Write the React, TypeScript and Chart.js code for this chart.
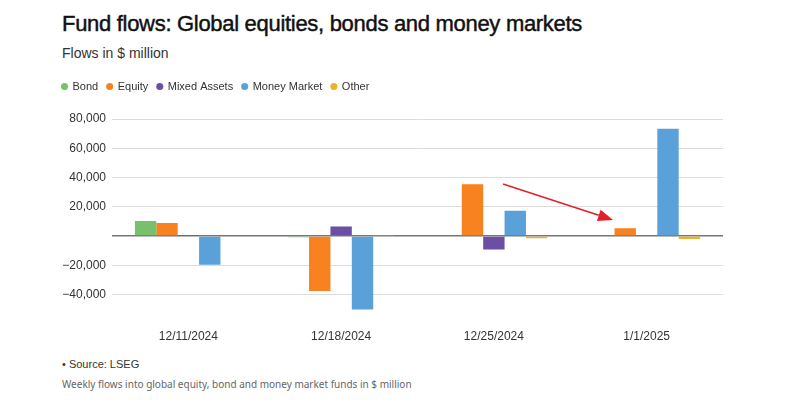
import React, { useEffect, useRef } from "react";
import { Chart, registerables } from "chart.js";

Chart.register(...registerables);

const categories = ["12/11/2024", "12/18/2024", "12/25/2024", "1/1/2025"];
const bond = [10300, -800, -500, 0];
const equity = [8900, -37500, 35400, 5300];
const mixedAssets = [300, 6600, -9100, 0];
const moneyMarket = [-19500, -50200, 17300, 73300];
const other = [0, 700, -1500, -2000];
const yTicks = [-40000, -20000, 0, 20000, 40000, 60000, 80000];
const arrowFrom = { x: 2.06, y: 35600 };
const arrowTo = { x: 2.78, y: 11000 };

const FONT = "'Liberation Sans', Arial, Helvetica, sans-serif";

const legendGap = {
  id: "legendGap",
  beforeInit(chart: any) {
    const orig = chart.legend.fit;
    chart.legend.fit = function () {
      orig.bind(chart.legend)();
      this.height += 17;
    };
  },
};

const arrowPlugin = {
  id: "arrowNote",
  afterDatasetsDraw(chart: any) {
    const { ctx, scales } = chart;
    const xs = scales.x;
    const ys = scales.y;
    const step = xs.getPixelForValue(1) - xs.getPixelForValue(0);
    const px = (v: number) => xs.getPixelForValue(Math.floor(v)) + (v - Math.floor(v)) * step;
    const x0 = px(arrowFrom.x);
    const x1 = px(arrowTo.x);
    const y0 = ys.getPixelForValue(arrowFrom.y);
    const y1 = ys.getPixelForValue(arrowTo.y);
    const ang = Math.atan2(y1 - y0, x1 - x0);
    const headLen = 15;
    const headW = 6;
    const bx = x1 - headLen * Math.cos(ang);
    const by = y1 - headLen * Math.sin(ang);
    ctx.save();
    ctx.strokeStyle = "#e3202a";
    ctx.fillStyle = "#e3202a";
    ctx.lineWidth = 1.6;
    ctx.beginPath();
    ctx.moveTo(x0, y0);
    ctx.lineTo(bx, by);
    ctx.stroke();
    ctx.beginPath();
    ctx.moveTo(x1, y1);
    ctx.lineTo(bx + headW * Math.sin(ang), by - headW * Math.cos(ang));
    ctx.lineTo(bx - headW * Math.sin(ang), by + headW * Math.cos(ang));
    ctx.closePath();
    ctx.fill();
    ctx.restore();
  },
};

export default function App() {
  const ref = useRef<HTMLCanvasElement | null>(null);

  useEffect(() => {
    document.body.style.margin = "0";
    if (!ref.current) return;
    const fmt = (v: number) => {
      if (v === 0) return "";
      const s = Math.abs(v).toLocaleString("en-US");
      return v < 0 ? "\u2212" + s : s;
    };
    const chart = new Chart(ref.current, {
      type: "bar",
      data: {
        labels: categories,
        datasets: [
          { label: "Bond", data: bond, backgroundColor: "#79c06c" },
          { label: "Equity", data: equity, backgroundColor: "#f8821f" },
          { label: "Mixed Assets", data: mixedAssets, backgroundColor: "#6b4fa5" },
          { label: "Money Market", data: moneyMarket, backgroundColor: "#5ba1d9" },
          { label: "Other", data: other, backgroundColor: "#e6b52b" },
        ],
      },
      options: {
        animation: false,
        responsive: false,
        maintainAspectRatio: false,
        layout: { padding: { left: 53, right: 77, top: 0, bottom: 0 } },
        datasets: {
          bar: { categoryPercentage: 0.7, barPercentage: 1.0 },
        },
        plugins: {
          tooltip: { enabled: false },
          legend: {
            position: "top",
            align: "start",
            labels: {
              usePointStyle: true,
              pointStyle: "circle",
              boxWidth: 5,
              boxHeight: 5,
              padding: 9,
              color: "#333",
              font: { family: FONT, size: 11 },
            },
          },
        },
        scales: {
          x: {
            grid: { display: false, drawTicks: false },
            border: { display: false },
            ticks: {
              color: "#333",
              padding: 13,
              font: { family: FONT, size: 12 },
            },
          },
          y: {
            min: -55000,
            max: 80000,
            afterBuildTicks: (axis: any) => {
              axis.ticks = yTicks.map((v) => ({ value: v }));
            },
            afterFit: (axis: any) => {
              axis.width = 59;
            },
            grid: {
              drawTicks: false,
              color: (c: any) => (c.tick && c.tick.value === 0 ? "#777" : "#dcdcdc"),
              lineWidth: (c: any) => (c.tick && c.tick.value === 0 ? 1.5 : 1),
            },
            border: { display: false },
            ticks: {
              color: "#333",
              padding: 6,
              font: { family: FONT, size: 12 },
              callback: (v: any) => fmt(Number(v)),
            },
          },
        },
      },
      plugins: [legendGap, arrowPlugin],
    });
    return () => chart.destroy();
  }, []);

  return (
    <div style={{ position: "relative", width: 800, height: 407, background: "#fff", fontFamily: FONT, overflow: "hidden" }}>
      <div
        style={{
          position: "absolute",
          left: 62,
          top: 11,
          fontSize: 22,
          color: "#111",
          letterSpacing: -0.3,
          WebkitTextStroke: "0.45px #111",
        }}
      >
        Fund flows: Global equities, bonds and money markets
      </div>
      <div style={{ position: "absolute", left: 62, top: 45, fontSize: 14, color: "#333" }}>Flows in $ million</div>
      <canvas ref={ref} width={800} height={285} style={{ position: "absolute", left: 0, top: 72, width: 800, height: 285 }} />
      <div style={{ position: "absolute", left: 62, top: 358, fontSize: 11, color: "#333" }}>• Source: LSEG</div>
      <div style={{ position: "absolute", left: 62, top: 377, fontSize: 10, color: "#666", fontFamily: "'Noto Sans', sans-serif" }}>
        Weekly flows into global equity, bond and money market funds in $ million
      </div>
    </div>
  );
}
